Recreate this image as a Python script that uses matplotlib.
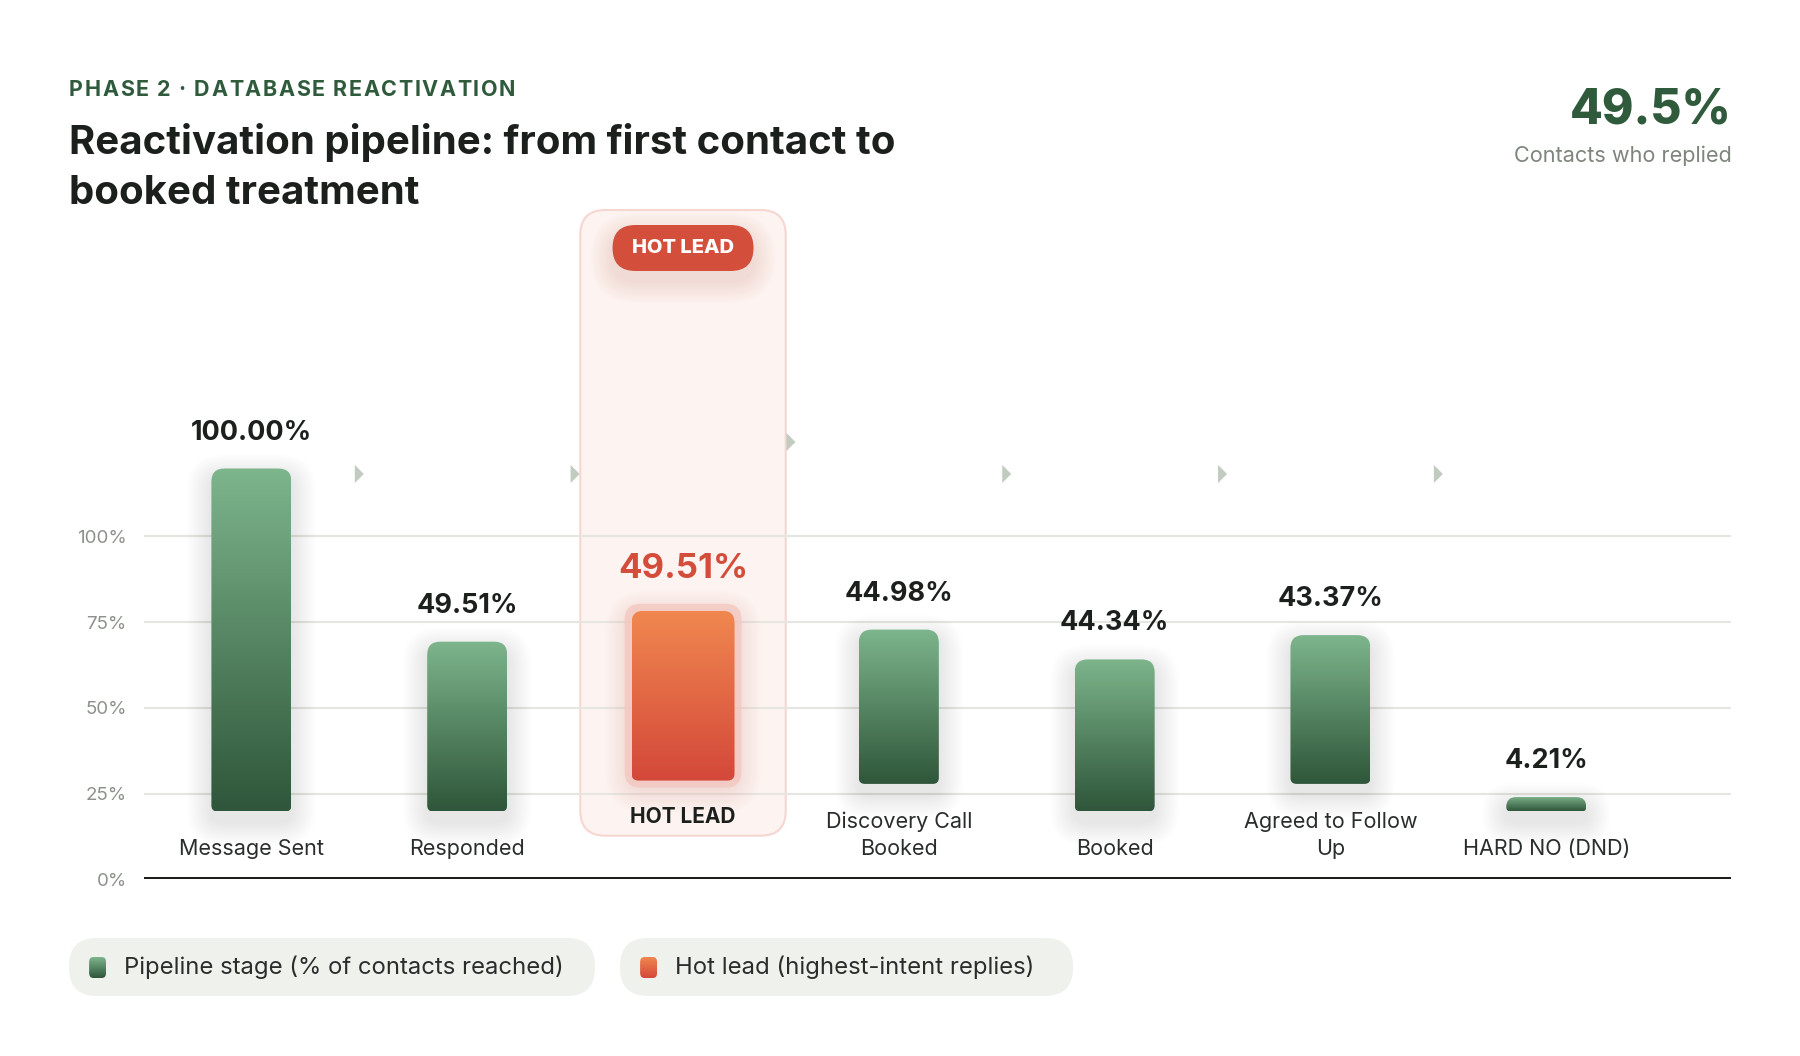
import numpy as np
import matplotlib.pyplot as plt
import matplotlib.transforms as mtransforms
from matplotlib.patches import FancyBboxPatch, PathPatch, Polygon
from matplotlib.path import Path
from matplotlib.colors import LinearSegmentedColormap

W, H = 1800, 1056

stages = ["Message Sent", "Responded", "HOT LEAD", "Discovery Call\nBooked",
          "Booked", "Agreed to Follow\nUp", "HARD NO (DND)"]
values = [100.00, 49.51, 49.51, 44.98, 44.34, 43.37, 4.21]
hot_index = 2
y_ticks = [0, 25, 50, 75, 100]
y_tick_labels = ["0%", "25%", "50%", "75%", "100%"]
legend_labels = ["Pipeline stage (% of contacts reached)", "Hot lead (highest-intent replies)"]
kpi_value = "49.5%"
kpi_label = "Contacts who replied"
eyebrow = "PHASE 2 · DATABASE REACTIVATION"
title_lines = ["Reactivation pipeline: from first contact to", "booked treatment"]

DARK_GREEN = "#2f5a3c"
GREEN_TOP, GREEN_BOT = "#7db58c", "#2f563a"
RED_TOP, RED_BOT = "#f0874f", "#d4483a"
PILL_RED = "#d34f3b"
INK = "#1c201d"
GREY = "#7d857c"

plt.rcParams["font.family"] = ["Inter", "DejaVu Sans"]

fig = plt.figure(figsize=(W / 100, H / 100), dpi=100)
fig.patch.set_facecolor("white")
tpx = mtransforms.Affine2D().scale(1 / W, -1 / H).translate(0, 1) + fig.transFigure
renderer = fig.canvas.get_renderer()


def ftext(x, y, s, **kw):
    return fig.text(x / W, 1 - y / H, s, **kw)


def tracked_text(x, y, s, track, **kw):
    # draw text with extra letter spacing (px)
    probe = fig.text(0, 0, "|", **kw)
    bar_w = probe.get_window_extent(renderer).width
    for k, ch in enumerate(s):
        probe.set_text(s[:k] + "|")
        adv = probe.get_window_extent(renderer).width - bar_w
        ftext(x + adv + k * track, y, ch, **kw)
    probe.remove()


# plot area (pixel rows counted from the top)
ax_left, ax_right = 143.5, 1731
ax_bottom, ax_top = 879.4, 191
px_per_pct = 3.43
XMIN, XMAX = -0.5, 6.856
YMAX = (ax_bottom - ax_top) / px_per_pct
ax = fig.add_axes([ax_left / W, 1 - ax_bottom / H, (ax_right - ax_left) / W, (ax_bottom - ax_top) / H])
sx = (ax_right - ax_left) / (XMAX - XMIN)
sy = px_per_pct


def rounded_path(x0, y0, w, h, r_top, r_bot):
    h_px = h * sy
    if r_top + r_bot > h_px:
        f = h_px / (r_top + r_bot)
        r_top, r_bot = r_top * f, r_bot * f
    rxt, ryt = r_top / sx, r_top / sy
    rxb, ryb = r_bot / sx, r_bot / sy
    x1, y1 = x0 + w, y0 + h
    verts = [(x0 + rxb, y0), (x1 - rxb, y0), (x1, y0), (x1, y0 + ryb),
             (x1, y1 - ryt), (x1, y1), (x1 - rxt, y1),
             (x0 + rxt, y1), (x0, y1), (x0, y1 - ryt),
             (x0, y0 + ryb), (x0, y0), (x0 + rxb, y0), (x0 + rxb, y0)]
    codes = [Path.MOVETO, Path.LINETO, Path.CURVE3, Path.CURVE3, Path.LINETO,
             Path.CURVE3, Path.CURVE3, Path.LINETO, Path.CURVE3, Path.CURVE3,
             Path.LINETO, Path.CURVE3, Path.CURVE3, Path.CLOSEPOLY]
    return Path(verts, codes)


def shadow(x0, y0, w, h, color, spread, drop, alpha, z, r=14, layers=12):
    for k in range(layers):
        g = spread * (k + 1) / layers
        p = rounded_path(x0 - g / sx, y0 - (g + drop) / sy, w + 2 * g / sx, h + 2 * g / sy, r + g, r + g)
        ax.add_patch(PathPatch(p, facecolor=color, edgecolor="none", alpha=alpha, zorder=z))


def gradient_bar(x0, y0, w, h, c_top, c_bot, r_top, r_bot, z):
    clip = PathPatch(rounded_path(x0, y0, w, h, r_top, r_bot), transform=ax.transData)
    cmap = LinearSegmentedColormap.from_list("g", [c_bot, c_top])
    grad = np.linspace(0, 1, 256).reshape(-1, 1)
    im = ax.imshow(grad, cmap=cmap, extent=(x0, x0 + w, y0, y0 + h), origin="lower",
                   aspect="auto", zorder=z, interpolation="bilinear")
    im.set_clip_path(clip)


# layout constants in percent units
last_line_y = 30 / sy
line_h = 27.6 / sy
bar_gap = 37.9 / sy
bar_w = 80 / sx
hot_w = 103 / sx
label_gap = 36 / sy

# hot lead column highlight
hot_x0, hot_x1 = hot_index - 0.476, hot_index + 0.476
hot_y0, hot_y1 = (ax_bottom - 835.7) / sy, (ax_bottom - 210) / sy
hot_box = FancyBboxPatch((hot_x0, hot_y0), hot_x1 - hot_x0, hot_y1 - hot_y0,
                         boxstyle="round,pad=0,rounding_size=%f" % (25 / sx),
                         mutation_aspect=sx / sy, facecolor="#fdf3f1", edgecolor="#f6d6d0",
                         linewidth=1.5, zorder=0.2)
ax.add_patch(hot_box)

for i, (name, val) in enumerate(zip(stages, values)):
    lines = name.split("\n")
    if i == hot_index:
        label_y = 62 / sy
        bottom = (ax_bottom - 780.6) / sy
        x0 = i - hot_w / 2
        pad = 7
        shadow(x0, bottom, hot_w, val, "#e9a198", 26, 6, 0.022, 2, r=14)
        glow = rounded_path(x0 - pad / sx, bottom - pad / sy, hot_w + 2 * pad / sx, val + 2 * pad / sy, 16, 16)
        ax.add_patch(PathPatch(glow, facecolor="#f4c6bf", edgecolor="none", alpha=0.75, zorder=2.5))
        gradient_bar(x0, bottom, hot_w, val, RED_TOP, RED_BOT, 12, 7, 3)
        ax.text(i, label_y, name, ha="center", va="center", fontsize=15,
                fontweight="bold", color=INK, zorder=4)
        ax.text(i, bottom + val + 42 / sy, "%.2f%%" % val, ha="center", va="center",
                fontsize=25, fontweight="bold", color="#d44c3a", zorder=4)
        continue
    bottom = last_line_y + (len(lines) - 1) * line_h + bar_gap
    x0 = i - bar_w / 2
    shadow(x0, bottom, bar_w, val, "#56625a", 24, 10, 0.010, 2, r=12)
    gradient_bar(x0, bottom, bar_w, val, GREEN_TOP, GREEN_BOT, 13, 6, 3)
    for k, line in enumerate(lines):
        ax.text(i, last_line_y + (len(lines) - 1 - k) * line_h, line, ha="center", va="center",
                fontsize=15.5, color="#2a2e2b", zorder=4)
    ax.text(i, bottom + val + label_gap, "%.2f%%" % val, ha="center", va="center",
            fontsize=19.5, fontweight="bold", color=INK, zorder=4)

# flow arrows between stages
for j in range(len(stages) - 1):
    ay = (ax_bottom - (442 if j == hot_index else 474)) / sy
    xa = j + 0.5
    tri = Polygon([(xa - 4.5 / sx, ay + 9 / sy), (xa + 4.5 / sx, ay), (xa - 4.5 / sx, ay - 9 / sy)],
                  closed=True, facecolor="#c1cbbf", edgecolor="none", zorder=4)
    ax.add_patch(tri)

# HOT LEAD pill
pill_w, pill_y0, pill_y1 = 141 / sx, (ax_bottom - 271) / sy, (ax_bottom - 225) / sy
shadow(hot_index - pill_w / 2, pill_y0, pill_w, pill_y1 - pill_y0, "#e58f82", 22, 10, 0.02, 4, r=23)
pill = FancyBboxPatch((hot_index - pill_w / 2, pill_y0), pill_w, pill_y1 - pill_y0,
                      boxstyle="round,pad=0,rounding_size=%f" % (23 / sx),
                      mutation_aspect=sx / sy, facecolor=PILL_RED, edgecolor="none", zorder=5)
ax.add_patch(pill)
ax.text(hot_index, (pill_y0 + pill_y1) / 2, "HOT LEAD", ha="center", va="center",
        fontsize=14.5, fontweight="heavy", color="white", zorder=6)

# axes styling
ax.set_xlim(XMIN, XMAX)
ax.set_ylim(0, YMAX)
ax.set_yticks(y_ticks)
ax.set_yticklabels(y_tick_labels, fontsize=13.5, color="#8c928b")
ax.set_xticks([])
ax.tick_params(axis="y", length=0, pad=12)
ax.yaxis.grid(True, color="#e4e6df", linewidth=1.5)
ax.set_axisbelow(True)
for s in ax.spines.values():
    s.set_visible(False)
ax.axhline(0, color="#1b1e1b", linewidth=3.6, zorder=5)
ax.patch.set_alpha(0)

# header
tracked_text(69, 96, eyebrow, 1.6, fontsize=15.5, fontweight="bold", color=DARK_GREEN, va="baseline")
ftext(69, 154, title_lines[0], fontsize=28.9, fontweight="bold", color=INK, va="baseline")
ftext(69, 204, title_lines[1], fontsize=28.9, fontweight="bold", color=INK, va="baseline")
ftext(1732, 124, kpi_value, fontsize=34.5, fontweight="heavy", color=DARK_GREEN, ha="right", va="baseline")
ftext(1732, 162, kpi_label, fontsize=15.6, color=GREY, ha="right", va="baseline")

# legend pills
pills = [(69, 595, 97.6, 124, GREEN_TOP, GREEN_BOT), (620, 1073, 648.6, 675, RED_TOP, RED_BOT)]
for (px0, px1, mx, tx, ct, cb), lab in zip(pills, legend_labels):
    fig.add_artist(FancyBboxPatch((px0, 938), px1 - px0, 58, boxstyle="round,pad=0,rounding_size=28",
                                  facecolor="#eff1ec", edgecolor="none", transform=tpx, zorder=-1))
    mk = fig.add_axes([(mx - 8.5) / W, 1 - 978 / H, 17 / W, 21 / H])
    mk.set_zorder(3)
    mk.axis("off")
    mk.imshow(np.linspace(0, 1, 64).reshape(-1, 1), cmap=LinearSegmentedColormap.from_list("m", [cb, ct]),
              origin="lower", aspect="auto", extent=(0, 1, 0, 1))
    mk.set_xlim(0, 1)
    mk.set_ylim(0, 1)
    clip = FancyBboxPatch((0, 0), 1, 1, boxstyle="round,pad=0,rounding_size=0.25",
                          transform=mk.transAxes)
    mk.images[0].set_clip_path(clip)
    ftext(tx, 967, lab, fontsize=17.2, color="#2a2e2b", va="center")

fig.savefig("out.png", dpi=100)
